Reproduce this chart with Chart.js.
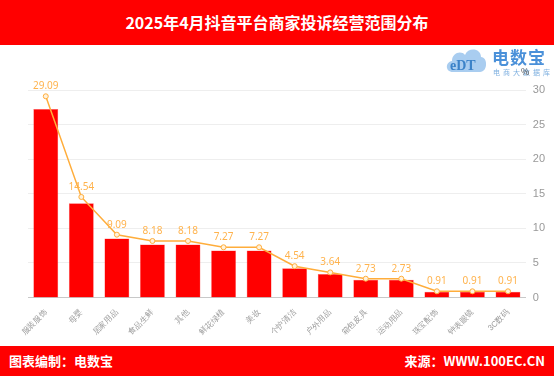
<!DOCTYPE html>
<html>
<head>
<meta charset="utf-8">
<script src="https://cdn.jsdelivr.net/npm/chart.js@4"></script>
<style>
  html, body { margin: 0; padding: 0; background: #fff; }
  body { width: 554px; height: 377px; position: relative; overflow: hidden; font-family: "Noto Sans CJK SC", "Noto Sans", sans-serif; }
  .head { position: absolute; left: 0; top: 0; width: 554px; height: 45px; background: #ff0000; color: #fff;
          font-weight: bold; font-size: 16px; line-height: 45px; text-align: center; }
  .foot { position: absolute; left: 0; top: 346px; width: 554px; height: 30px; background: #ff0000; color: #fff;
          font-weight: bold; font-size: 13px; line-height: 30px; }
  .foot .l { position: absolute; left: 9px; }
  .foot .r { position: absolute; right: 9px; }
  .box { position: absolute; left: 0; top: 45px; width: 554px; height: 301px; }
  .logo { position: absolute; left: 444px; top: 45px; width: 110px; height: 30px; }
  .logo .b { position: absolute; left: 48px; top: -1px; font-size: 17px; font-weight: bold; color: #4a90d9; letter-spacing: 1px; }
  .logo .s { position: absolute; left: 49px; top: 22px; font-size: 7px; color: #7fb0e0; letter-spacing: 3px; }
  .logo .c { position: absolute; left: 0px; top: 0px; width: 45px; height: 29px; }
  .unit { position: absolute; left: 521px; top: 65px; font-size: 9px; color: #555; }
</style>
</head>
<body>
<div class="head">2025年4月抖音平台商家投诉经营范围分布</div>
<div class="box"><canvas id="c"></canvas></div>
<div class="logo">
  <svg class="c" viewBox="0 0 45 29">
    <path d="M9 27 C1 27 1 17 8 16 C8 8 17 5 21 10 C24 2 37 3 37 12 C44 12 44 27 36 27 Z" fill="#a9cdf0"/>
    <text x="6" y="25" font-size="14" font-weight="bold" fill="#3b82c8" font-family="Liberation Serif">eDT</text>
  </svg>
  <div class="b">电数宝</div>
  <div class="s">电商大数据库</div>
</div>
<div class="unit">%</div>
<div class="foot"><span class="l">图表编制：电数宝</span><span class="r">来源：WWW.100EC.CN</span></div>
<script>
const categories = ["服装服饰", "母婴", "居家用品", "食品生鲜", "其他", "鲜花绿植", "美妆", "个护清洁", "户外用品", "箱包皮具", "运动用品", "珠宝配饰", "钟表眼镜", "3C数码"];
const shareValues = [29.09, 14.54, 9.09, 8.18, 8.18, 7.27, 7.27, 4.54, 3.64, 2.73, 2.73, 0.91, 0.91, 0.91];
const yTicks = [0, 5, 10, 15, 20, 25, 30];

const lineColor = "#ffad3b";

const valueLabels = {
  id: "valueLabels",
  afterDatasetsDraw(chart) {
    const ctx = chart.ctx;
    const meta = chart.getDatasetMeta(0);
    ctx.save();
    ctx.fillStyle = "#ffb34d";
    ctx.font = "10px 'Noto Sans', sans-serif";
    ctx.textAlign = "center";
    ctx.textBaseline = "bottom";
    meta.data.forEach((pt, i) => {
      ctx.fillText(shareValues[i].toFixed(2), pt.x, pt.y - 5);
    });
    ctx.restore();
  }
};

new Chart(document.getElementById("c"), {
  data: {
    labels: categories,
    datasets: [{
      type: "line",
      data: shareValues,
      yAxisID: "y",
      borderColor: lineColor,
      borderWidth: 1.5,
      pointRadius: 2.5,
      pointBackgroundColor: "#fff2dc",
      pointBorderColor: lineColor,
      pointBorderWidth: 1,
      tension: 0,
      order: 0
    }, {
      type: "bar",
      data: shareValues,
      yAxisID: "yBar",
      backgroundColor: "#ff0000",
      borderColor: "#ff6060",
      borderWidth: 0.5,
      categoryPercentage: 0.7,
      barPercentage: 1,
      order: 1
    }]
  },
  options: {
    responsive: true,
    maintainAspectRatio: false,
    animation: false,
    layout: { padding: { left: 28, right: 2, top: 45, bottom: 7 } },
    plugins: {
      legend: { display: false },
      tooltip: { enabled: false }
    },
    scales: {
      x: {
        grid: { display: false },
        border: { color: "#c8c8c8", width: 1 },
        ticks: {
          color: "#999",
          font: { size: 8 },
          minRotation: 45,
          maxRotation: 45,
          padding: 2
        }
      },
      y: {
        position: "right",
        min: 0,
        max: 30,
        afterBuildTicks: (axis) => { axis.ticks = yTicks.map(v => ({ value: v })); },
        grid: { color: "#eeeeee", drawTicks: false },
        border: { display: false },
        ticks: { color: "#999", font: { size: 11 }, padding: 7 }
      },
      yBar: {
        display: false,
        min: 0,
        max: 32
      }
    }
  },
  plugins: [valueLabels]
});
</script>
</body>
</html>
